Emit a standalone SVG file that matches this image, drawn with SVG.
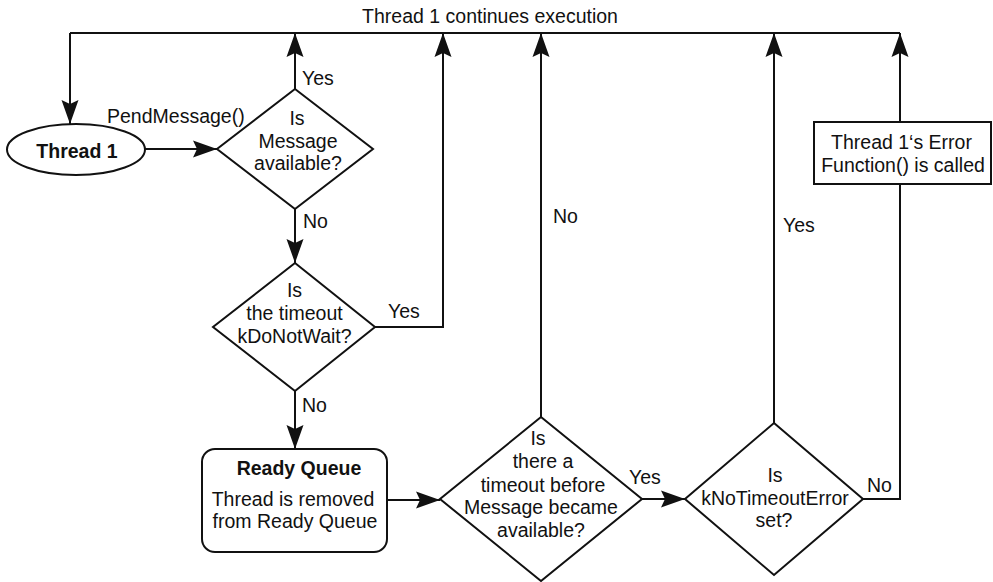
<svg xmlns="http://www.w3.org/2000/svg" width="993" height="582" viewBox="0 0 993 582">
<style>
.shape{fill:#fff;stroke:#111;stroke-width:2}
.conn{fill:none;stroke:#111;stroke-width:2}
text{font-family:"Liberation Sans",Arial,Helvetica,sans-serif;font-size:19.5px;fill:#111}
.c{text-anchor:middle}
.b{font-weight:bold}
</style>
<defs>
<marker id="ah" markerUnits="userSpaceOnUse" viewBox="0 -10 26 20" markerWidth="26" markerHeight="20" refX="24" refY="0" orient="auto">
<path d="M0,-8.5 L24,0 L0,8.5 L4,0 Z" fill="#111"/>
</marker>
</defs>
<rect width="993" height="582" fill="#fff"/>
<g id="connectors">
<path class="conn" d="M70,33 H900"/>
<path class="conn" d="M70,33 V124" marker-end="url(#ah)"/>
<path class="conn" d="M145,149 H217" marker-end="url(#ah)"/>
<path class="conn" d="M295,89 V33" marker-end="url(#ah)"/>
<path class="conn" d="M295,209 V263" marker-end="url(#ah)"/>
<path class="conn" d="M375,327 H443 V33" marker-end="url(#ah)"/>
<path class="conn" d="M295,391 V449" marker-end="url(#ah)"/>
<path class="conn" d="M387,500 H440" marker-end="url(#ah)"/>
<path class="conn" d="M541,417 V33" marker-end="url(#ah)"/>
<path class="conn" d="M642,499 H685" marker-end="url(#ah)"/>
<path class="conn" d="M774,423 V33" marker-end="url(#ah)"/>
<path class="conn" d="M863,499 H900 V184"/>
<path class="conn" d="M900,122 V33" marker-end="url(#ah)"/>
<text x="490" y="23" class="c">Thread 1 continues execution</text>
<text x="107" y="123">PendMessage()</text>
<text x="302" y="85">Yes</text>
<text x="303" y="228">No</text>
<text x="388" y="318">Yes</text>
<text x="302" y="412">No</text>
<text x="553" y="223">No</text>
<text x="629" y="484">Yes</text>
<text x="783" y="232">Yes</text>
<text x="867" y="492">No</text>
</g>
<g id="thread1">
<ellipse class="shape" cx="76" cy="149.5" rx="69" ry="25.5"/>
<text x="77" y="158" class="c b">Thread 1</text>
</g>
<g id="msgAvailable">
<polygon class="shape" points="295,89 373,149 295,209 217,149"/>
<text x="297" y="125" class="c">Is</text>
<text x="298" y="148" class="c">Message</text>
<text x="298" y="170" class="c">available?</text>
</g>
<g id="timeoutDoNotWait">
<polygon class="shape" points="295,263 375,327 295,391 213,327"/>
<text x="294.5" y="297" class="c">Is</text>
<text x="294.5" y="320" class="c">the timeout</text>
<text x="294.5" y="343" class="c">kDoNotWait?</text>
</g>
<g id="readyQueue">
<rect class="shape" x="202" y="449" width="185" height="103" rx="13" ry="13"/>
<text x="299" y="475" class="c b">Ready Queue</text>
<text x="293" y="506" class="c">Thread is removed</text>
<text x="295" y="528" class="c">from Ready Queue</text>
</g>
<g id="timeoutBefore">
<polygon class="shape" points="541,417 642,499 541,581 440,499"/>
<text x="538" y="445" class="c">Is</text>
<text x="543" y="468" class="c">there a</text>
<text x="543" y="492" class="c">timeout before</text>
<text x="541" y="514" class="c">Message became</text>
<text x="541" y="537" class="c">available?</text>
</g>
<g id="noTimeoutError">
<polygon class="shape" points="774,423 863,499 774,575 685,499"/>
<text x="775" y="482" class="c">Is</text>
<text x="775" y="505" class="c">kNoTimeoutError</text>
<text x="774" y="527" class="c">set?</text>
</g>
<g id="errorFunction">
<rect class="shape" x="814" y="122" width="177" height="62"/>
<text x="901.5" y="149" class="c">Thread 1‘s Error</text>
<text x="903" y="172" class="c">Function() is called</text>
</g>
</svg>
